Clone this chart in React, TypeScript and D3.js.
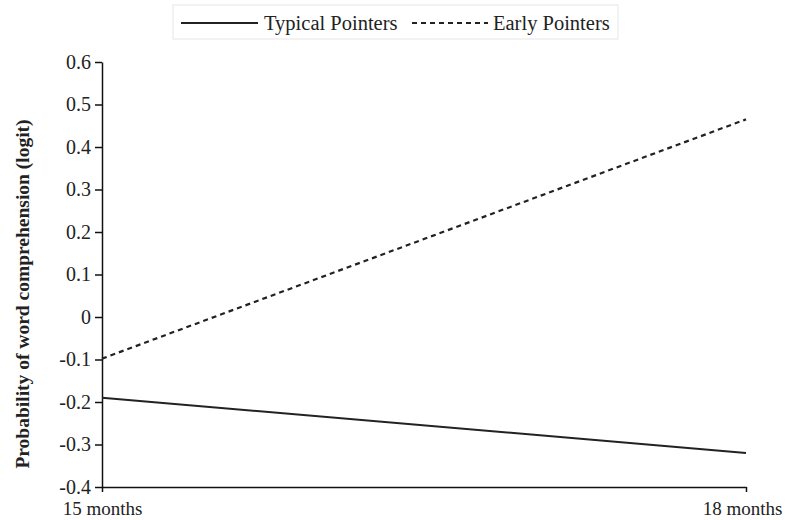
import React, { useEffect, useRef } from 'react';
import * as d3 from 'd3';

const ages = ['15 months', '18 months'];
const typical = [-0.19, -0.32];
const early = [-0.098, 0.465];
const yTicks = [0.6, 0.5, 0.4, 0.3, 0.2, 0.1, 0, -0.1, -0.2, -0.3, -0.4];

const W = 786;
const H = 520;
const margin = { top: 62, right: 40, bottom: 33, left: 102 };
const FONT = '"Liberation Serif", "Times New Roman", serif';

const App: React.FC = () => {
  const svgRef = useRef<SVGSVGElement>(null);

  useEffect(() => {
    if (!svgRef.current) return;
    const svg = d3.select(svgRef.current);
    svg.selectAll('*').remove();

    const x = d3.scalePoint<string>()
      .domain(ages)
      .range([margin.left, W - margin.right]);

    const y = d3.scaleLinear()
      .domain([-0.4, 0.6])
      .range([H - margin.bottom, margin.top]);

    // Y axis
    const yAxis = d3.axisLeft(y)
      .tickValues(yTicks)
      .tickSize(7)
      .tickSizeOuter(0)
      .tickPadding(4)
      .tickFormat(d => {
        const v = +d;
        return v === 0 ? '0' : v.toFixed(1);
      });

    const yg = svg.append('g')
      .attr('transform', `translate(${margin.left},0)`)
      .call(yAxis);
    yg.select('.domain').attr('stroke', '#111').attr('stroke-width', 1.5);
    yg.selectAll('.tick line').attr('stroke', '#111').attr('stroke-width', 1.5);
    yg.selectAll('text')
      .style('font-family', FONT)
      .style('font-size', '20px')
      .attr('fill', '#222');

    // X axis
    const xAxis = d3.axisBottom(x)
      .tickSize(5)
      .tickSizeOuter(0)
      .tickPadding(10);
    const xg = svg.append('g')
      .attr('transform', `translate(0,${H - margin.bottom})`)
      .call(xAxis);
    xg.select('.domain').attr('stroke', '#111').attr('stroke-width', 1.5);
    xg.selectAll('.tick line').attr('stroke', '#111').attr('stroke-width', 1.5);
    xg.selectAll('text')
      .style('font-family', FONT)
      .style('font-size', '19px')
      .attr('fill', '#222')
      .attr('dx', (_, i) => (i === ages.length - 1 ? -4 : 0));

    // Y label
    svg.append('text')
      .attr('transform', `translate(29,294) rotate(-90)`)
      .attr('text-anchor', 'middle')
      .style('font-family', FONT)
      .style('font-size', '19.5px')
      .style('font-weight', 'bold')
      .attr('fill', '#222')
      .text('Probability of word comprehension (logit)');

    const line = d3.line<number>()
      .x((_, i) => x(ages[i]) as number)
      .y(d => y(d));

    svg.append('path')
      .datum(typical)
      .attr('d', line)
      .attr('fill', 'none')
      .attr('stroke', '#222')
      .attr('stroke-width', 2);

    svg.append('path')
      .datum(early)
      .attr('d', line)
      .attr('fill', 'none')
      .attr('stroke', '#222')
      .attr('stroke-width', 2.2)
      .attr('stroke-dasharray', '5,4');

    // Legend
    const lg = svg.append('g');
    lg.append('rect')
      .attr('x', 173).attr('y', 5)
      .attr('width', 445).attr('height', 34)
      .attr('fill', 'none')
      .attr('stroke', '#e6e6e6')
      .attr('stroke-width', 1);
    lg.append('line')
      .attr('x1', 181).attr('x2', 258)
      .attr('y1', 23).attr('y2', 23)
      .attr('stroke', '#222').attr('stroke-width', 2);
    lg.append('text')
      .attr('x', 264).attr('y', 30)
      .style('font-family', FONT).style('font-size', '20.5px')
      .attr('fill', '#222')
      .text('Typical Pointers');
    lg.append('line')
      .attr('x1', 412).attr('x2', 488)
      .attr('y1', 23).attr('y2', 23)
      .attr('stroke', '#222').attr('stroke-width', 2)
      .attr('stroke-dasharray', '5,4');
    lg.append('text')
      .attr('x', 493).attr('y', 30)
      .style('font-family', FONT).style('font-size', '20.5px')
      .attr('fill', '#222')
      .text('Early Pointers');
  }, []);

  return (
    <svg
      ref={svgRef}
      width={W}
      height={H}
      style={{ position: 'absolute', left: 0, top: 0, background: '#fff' }}
    />
  );
};

export default App;
